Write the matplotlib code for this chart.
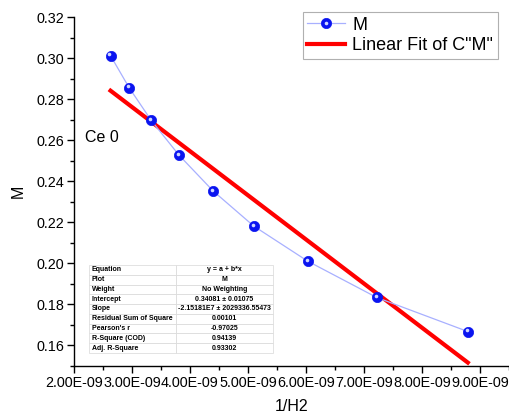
import matplotlib
matplotlib.use("Agg")
import matplotlib.pyplot as plt
import numpy as np
from matplotlib.ticker import MultipleLocator, FormatStrFormatter, FuncFormatter
from matplotlib.transforms import offset_copy
from matplotlib.legend_handler import HandlerTuple

plt.rcParams['font.family'] = ['Liberation Sans', 'DejaVu Sans']

# ---- data ----
inv_h2 = [2.63e-9, 2.95e-9, 3.33e-9, 3.81e-9, 4.40e-9, 5.10e-9, 6.03e-9, 7.22e-9, 8.79e-9]
m_vals = [0.3013, 0.2857, 0.2698, 0.2528, 0.2353, 0.2182, 0.2011, 0.1834, 0.1668]
fit_intercept = 0.34081
fit_slope = -2.15181e7
table_labels = ["Equation", "Plot", "Weight", "Intercept", "Slope",
                "Residual Sum of Square", "Pearson's r", "R-Square (COD)", "Adj. R-Square"]
table_values = ["y = a + b*x", "M", "No Weighting", "0.34081 \u00b1 0.01075",
                "-2.15181E7 \u00b1 2029336.55473", "0.00101", "-0.97025", "0.94139", "0.93302"]

W, H = 510, 418
fig = plt.figure(figsize=(W / 100, H / 100), dpi=100)
ax = fig.add_axes([74 / W, (H - 366) / H, 435 / W, (366 - 17.3) / H])

x = np.array(inv_h2)
y = np.array(m_vals)

line_m, = ax.plot(x, y, '-', color='#a8b0ff', lw=0.9, marker='o', ms=7.4,
                  mfc='#0a14f0', mec='#0a14f0', mew=0.5, zorder=3)
hl_tr = offset_copy(ax.transData, fig=fig, x=-1.2, y=1.2, units='dots')
hl, = ax.plot(x, y, ls='none', marker='o', ms=2.6, mfc='#d0d8ff', mec='none',
              transform=hl_tr, zorder=4)

xf = np.array([x.min(), x.max()])
line_fit, = ax.plot(xf, fit_intercept + fit_slope * xf, color='#ff0000', lw=3.0, zorder=2)

ax.set_xlim(2e-9, 9.5e-9)
ax.set_ylim(0.15, 0.32)
ax.xaxis.set_major_locator(MultipleLocator(1e-9))
ax.xaxis.set_minor_locator(MultipleLocator(0.5e-9))
ax.xaxis.set_major_formatter(
    FuncFormatter(lambda v, p: "%.2E" % v if 1.99e-9 <= v <= 9.01e-9 else ""))
ax.yaxis.set_major_locator(MultipleLocator(0.02))
ax.yaxis.set_minor_locator(MultipleLocator(0.01))
ax.yaxis.set_major_formatter(FormatStrFormatter('%.2f'))
for s in ['top', 'right']:
    ax.spines[s].set_visible(False)
for s in ['left', 'bottom']:
    ax.spines[s].set_linewidth(1.0)
ax.tick_params(which='major', direction='out', length=5, width=1, labelsize=10.4, pad=2)
ax.tick_params(which='minor', direction='out', length=3, width=1)
ax.set_xlabel('1/H2', fontsize=11.5, labelpad=7)
ax.set_ylabel('M', fontsize=11.5, labelpad=8)

ax.text(0.025, 0.655, 'Ce 0', transform=ax.transAxes, fontsize=11.5, va='center', ha='left')

leg = ax.legend([(line_m, hl), line_fit], ['M', 'Linear Fit of C"M"'],
                handler_map={tuple: HandlerTuple(ndivide=1, pad=0)},
                loc='upper left', bbox_to_anchor=(0.526, 1.015), borderaxespad=0,
                fontsize=13, handlelength=2.1, handletextpad=0.4, labelspacing=0.2,
                borderpad=0.25, fancybox=False, framealpha=1, edgecolor='#b0b0b0')
leg.get_frame().set_linewidth(0.8)

cells = [[a, b] for a, b in zip(table_labels, table_values)]
tb = ax.table(cellText=cells, colWidths=[0.473, 0.527], cellLoc='center',
              bbox=[0.0345, 0.0373, 0.423, 0.2524])
tb.auto_set_font_size(False)
tb.set_fontsize(5)
for (r, c), cell in tb.get_celld().items():
    cell.set_edgecolor('#d8d8d8')
    cell.set_linewidth(0.5)
    cell.get_text().set_fontweight('bold')
    if c == 0:
        cell.get_text().set_ha('left')
        cell.PAD = 0.03
        cell._loc = 'left'
tb.set_zorder(5)

fig.savefig('out.png', dpi=100)
